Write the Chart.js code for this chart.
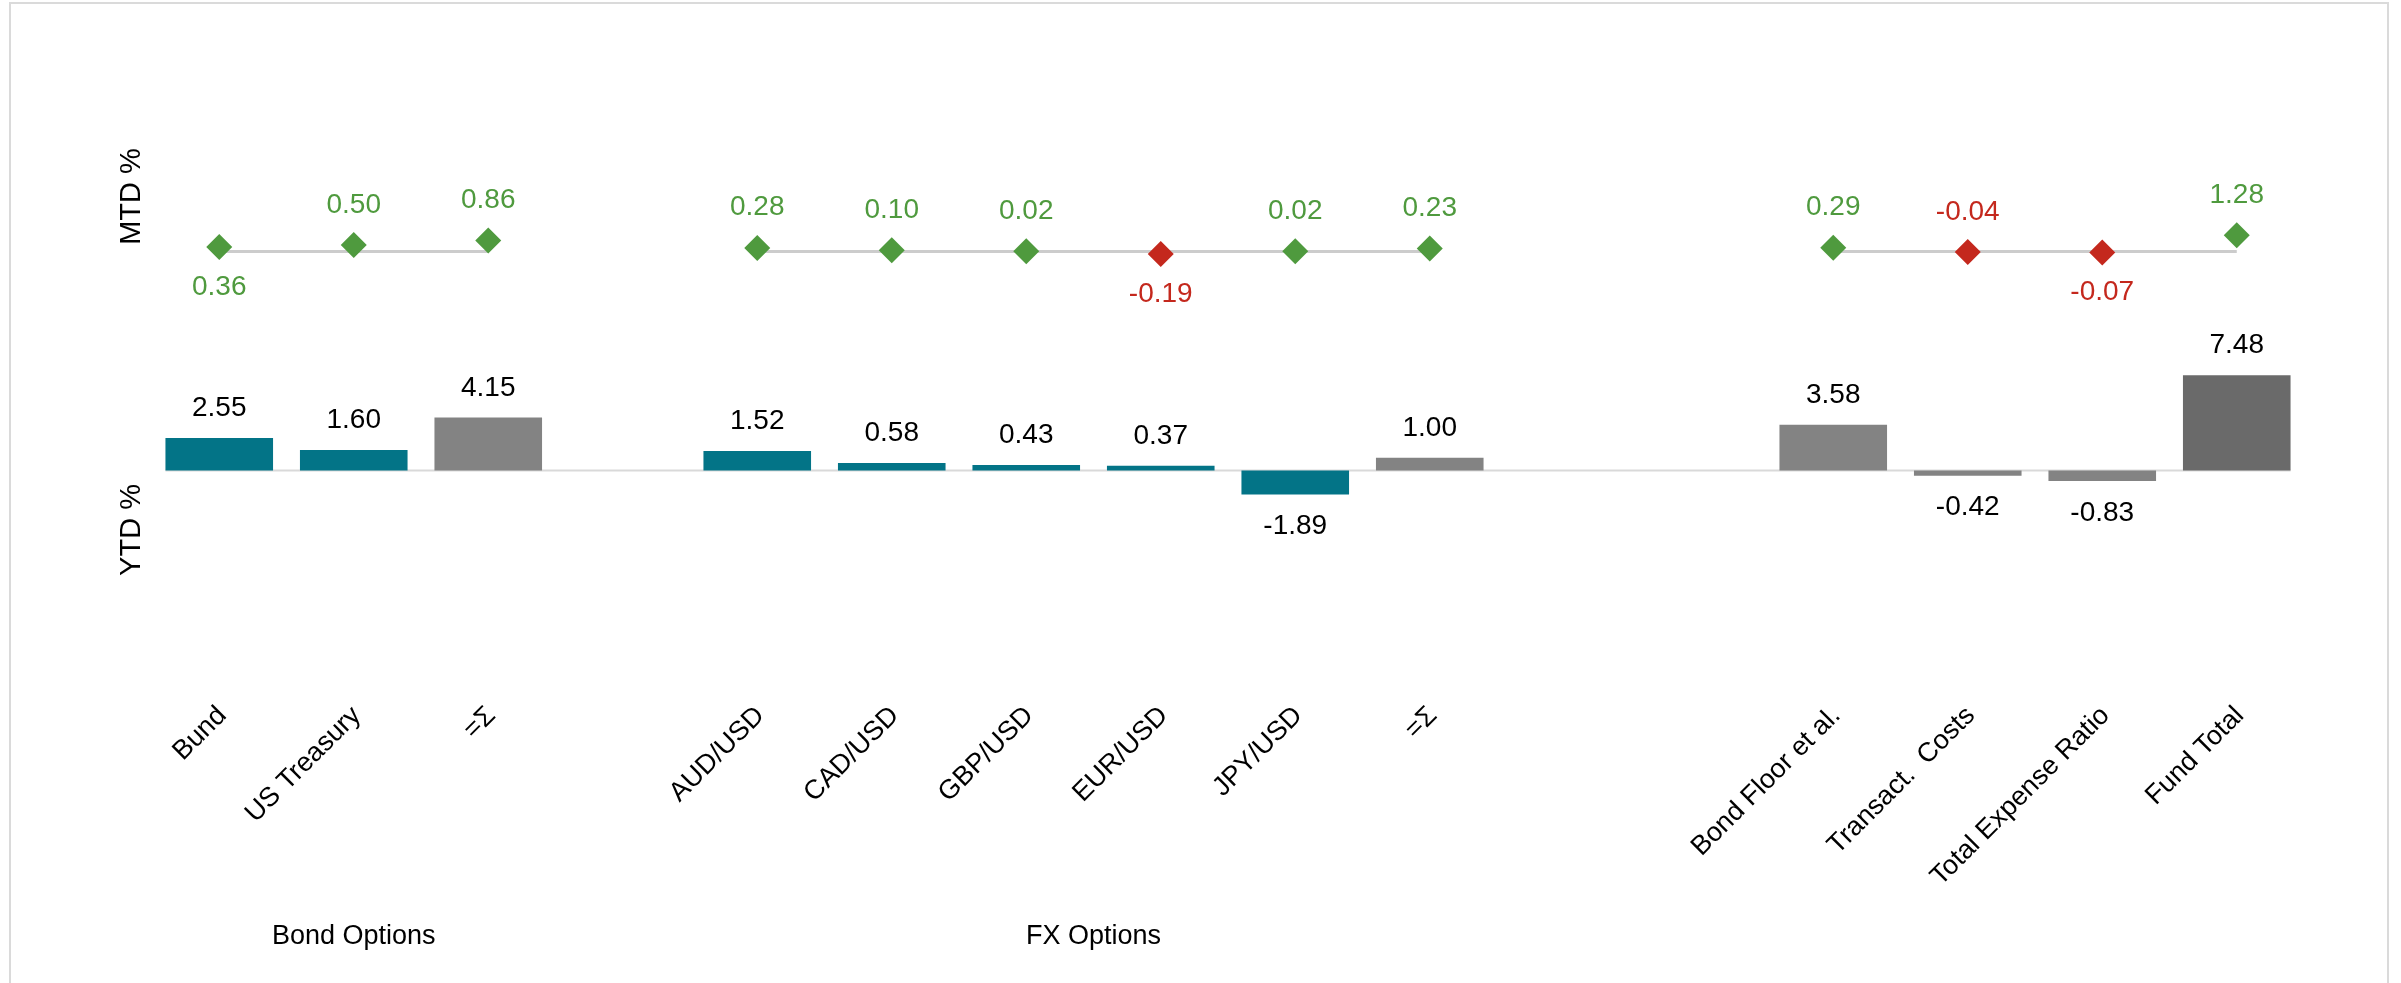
<!DOCTYPE html>
<html><head><meta charset="utf-8">
<script src="https://cdn.jsdelivr.net/npm/chart.js@4/dist/chart.umd.min.js"></script>
<style>
html,body{margin:0;padding:0;background:#fff;overflow:hidden;}
#wrap{position:relative;width:2401px;height:983px;}
#frame{position:absolute;left:9px;top:2px;width:2380px;height:1000px;box-sizing:border-box;border:2px solid #dadada;}
canvas{position:absolute;left:0;top:0;}
</style></head><body>
<div id="wrap"><div id="frame"></div><canvas id="c" width="2401" height="983"></canvas></div>
<script>
// ---- data ----
const categories = ['Bund','US Treasury','=Σ','','AUD/USD','CAD/USD','GBP/USD','EUR/USD','JPY/USD','=Σ','','','Bond Floor et al.','Transact.  Costs','Total Expense Ratio','Fund Total'];
const ytdValues = [2.55,1.60,4.15,null,1.52,0.58,0.43,0.37,-1.89,1.00,null,null,3.58,-0.42,-0.83,7.48];
const mtdValues = [0.36,0.50,0.86,null,0.28,0.10,0.02,-0.19,0.02,0.23,null,null,0.29,-0.04,-0.07,1.28];
const barKinds = ['item','item','sum',null,'item','item','item','item','item','sum',null,null,'sum','sum','sum','total'];
const mtdLabelBelow = [true,false,false,false,false,false,false,true,false,false,false,false,false,false,true,false];
const groupNames = ['Bond Options','FX Options'];
const groupStart = [0,4];
const groupEnd = [2,9];

// ---- style ----
const FONT = "'Liberation Sans', Arial, sans-serif";
const kindColor = {item:'#037487', sum:'#838383', total:'#6a6a6a'};
const POS = '#4f9a3e', NEG = '#c4281d';
Chart.defaults.font.family = FONT;
Chart.defaults.color = '#000';

const helperPlugin = {
  id: 'helper',
  beforeDatasetsDraw(chart) {
    const ctx = chart.ctx, x = chart.scales.x, yY = chart.scales.yY;
    const meta = chart.getDatasetMeta(0);
    const bw = meta.data[0].width;
    const y0 = yY.getPixelForValue(0);
    ctx.save();
    ctx.strokeStyle = '#d9d9d9'; ctx.lineWidth = 2;
    ctx.beginPath();
    ctx.moveTo(x.getPixelForValue(0) - bw/2, y0);
    ctx.lineTo(x.getPixelForValue(categories.length-1) + bw/2, y0);
    ctx.stroke();
    ctx.restore();
  },
  afterDatasetsDraw(chart) {
    const ctx = chart.ctx;
    ctx.save();
    ctx.textAlign = 'center'; ctx.textBaseline = 'alphabetic';
    ctx.font = '28px ' + FONT;
    // YTD labels
    const bm = chart.getDatasetMeta(0);
    ytdValues.forEach((v,i) => {
      if (v === null) return;
      const el = bm.data[i];
      ctx.fillStyle = '#000';
      if (v >= 0) ctx.fillText(v.toFixed(2), el.x, el.y - 22);
      else ctx.fillText(v.toFixed(2), el.x, el.y + 39.5);
    });
    // MTD labels
    const mm = chart.getDatasetMeta(2);
    mtdValues.forEach((v,i) => {
      if (v === null) return;
      const el = mm.data[i];
      ctx.fillStyle = v >= 0 ? POS : NEG;
      ctx.fillText(v.toFixed(2), el.x, mtdLabelBelow[i] ? el.y + 48 : el.y - 32.5);
    });
    // group labels
    const x = chart.scales.x;
    ctx.fillStyle = '#000';
    ctx.font = '27px ' + FONT;
    groupNames.forEach((g,k) => {
      const cx = (x.getPixelForValue(groupStart[k]) + x.getPixelForValue(groupEnd[k])) / 2;
      ctx.fillText(g, cx, 944);
    });
    ctx.restore();
  }
};

new Chart(document.getElementById('c'), {
  data: {
    labels: categories,
    datasets: [
      {
        type: 'bar', data: ytdValues, yAxisID: 'yY', order: 3, clip: false,
        backgroundColor: barKinds.map(k => k ? kindColor[k] : 'transparent'),
        barPercentage: 0.8, categoryPercentage: 1.0
      },
      {
        type: 'line', data: mtdValues.map(v => v === null ? null : 0), yAxisID: 'yM', order: 2, clip: false,
        borderColor: '#cccccc', borderWidth: 3, pointRadius: 0, spanGaps: false, fill: false
      },
      {
        type: 'line', data: mtdValues, yAxisID: 'yM', order: 1, clip: false, showLine: false,
        pointStyle: 'rectRot', pointRadius: 13, pointHoverRadius: 13, pointBorderWidth: 0,
        pointBackgroundColor: mtdValues.map(v => v !== null && v < 0 ? NEG : POS)
      }
    ]
  },
  options: {
    responsive: false, animation: false,
    layout: { padding: { left: 111, right: 97, top: 33, bottom: 0 } },
    plugins: { legend: { display: false }, tooltip: { enabled: false } },
    scales: {
      x: {
        type: 'category', offset: true,
        grid: { display: false, drawTicks: false }, border: { display: false },
        ticks: { autoSkip: false, maxRotation: 45, minRotation: 45, padding: 0, labelOffset: 3, font: { size: 27 }, color: '#000' },
        afterFit(s) { s.height = 283; }
      },
      yM: {
        position: 'left', stack: 'v', stackWeight: 327, weight: 1,
        min: -8.51, max: 17.137,
        grid: { display: false }, border: { display: false }, ticks: { display: false },
        title: { display: true, text: 'MTD %', font: { size: 29 }, color: '#000' },
        afterFit(s) { s.width = 41; }
      },
      yY: {
        position: 'left', stack: 'v', stackWeight: 340, weight: 0,
        min: -18.0, max: 8.667,
        grid: { display: false }, border: { display: false }, ticks: { display: false },
        title: { display: true, text: 'YTD %', font: { size: 29 }, color: '#000' },
        afterFit(s) { s.width = 41; }
      }
    }
  },
  plugins: [helperPlugin]
});
</script>
</body></html>
